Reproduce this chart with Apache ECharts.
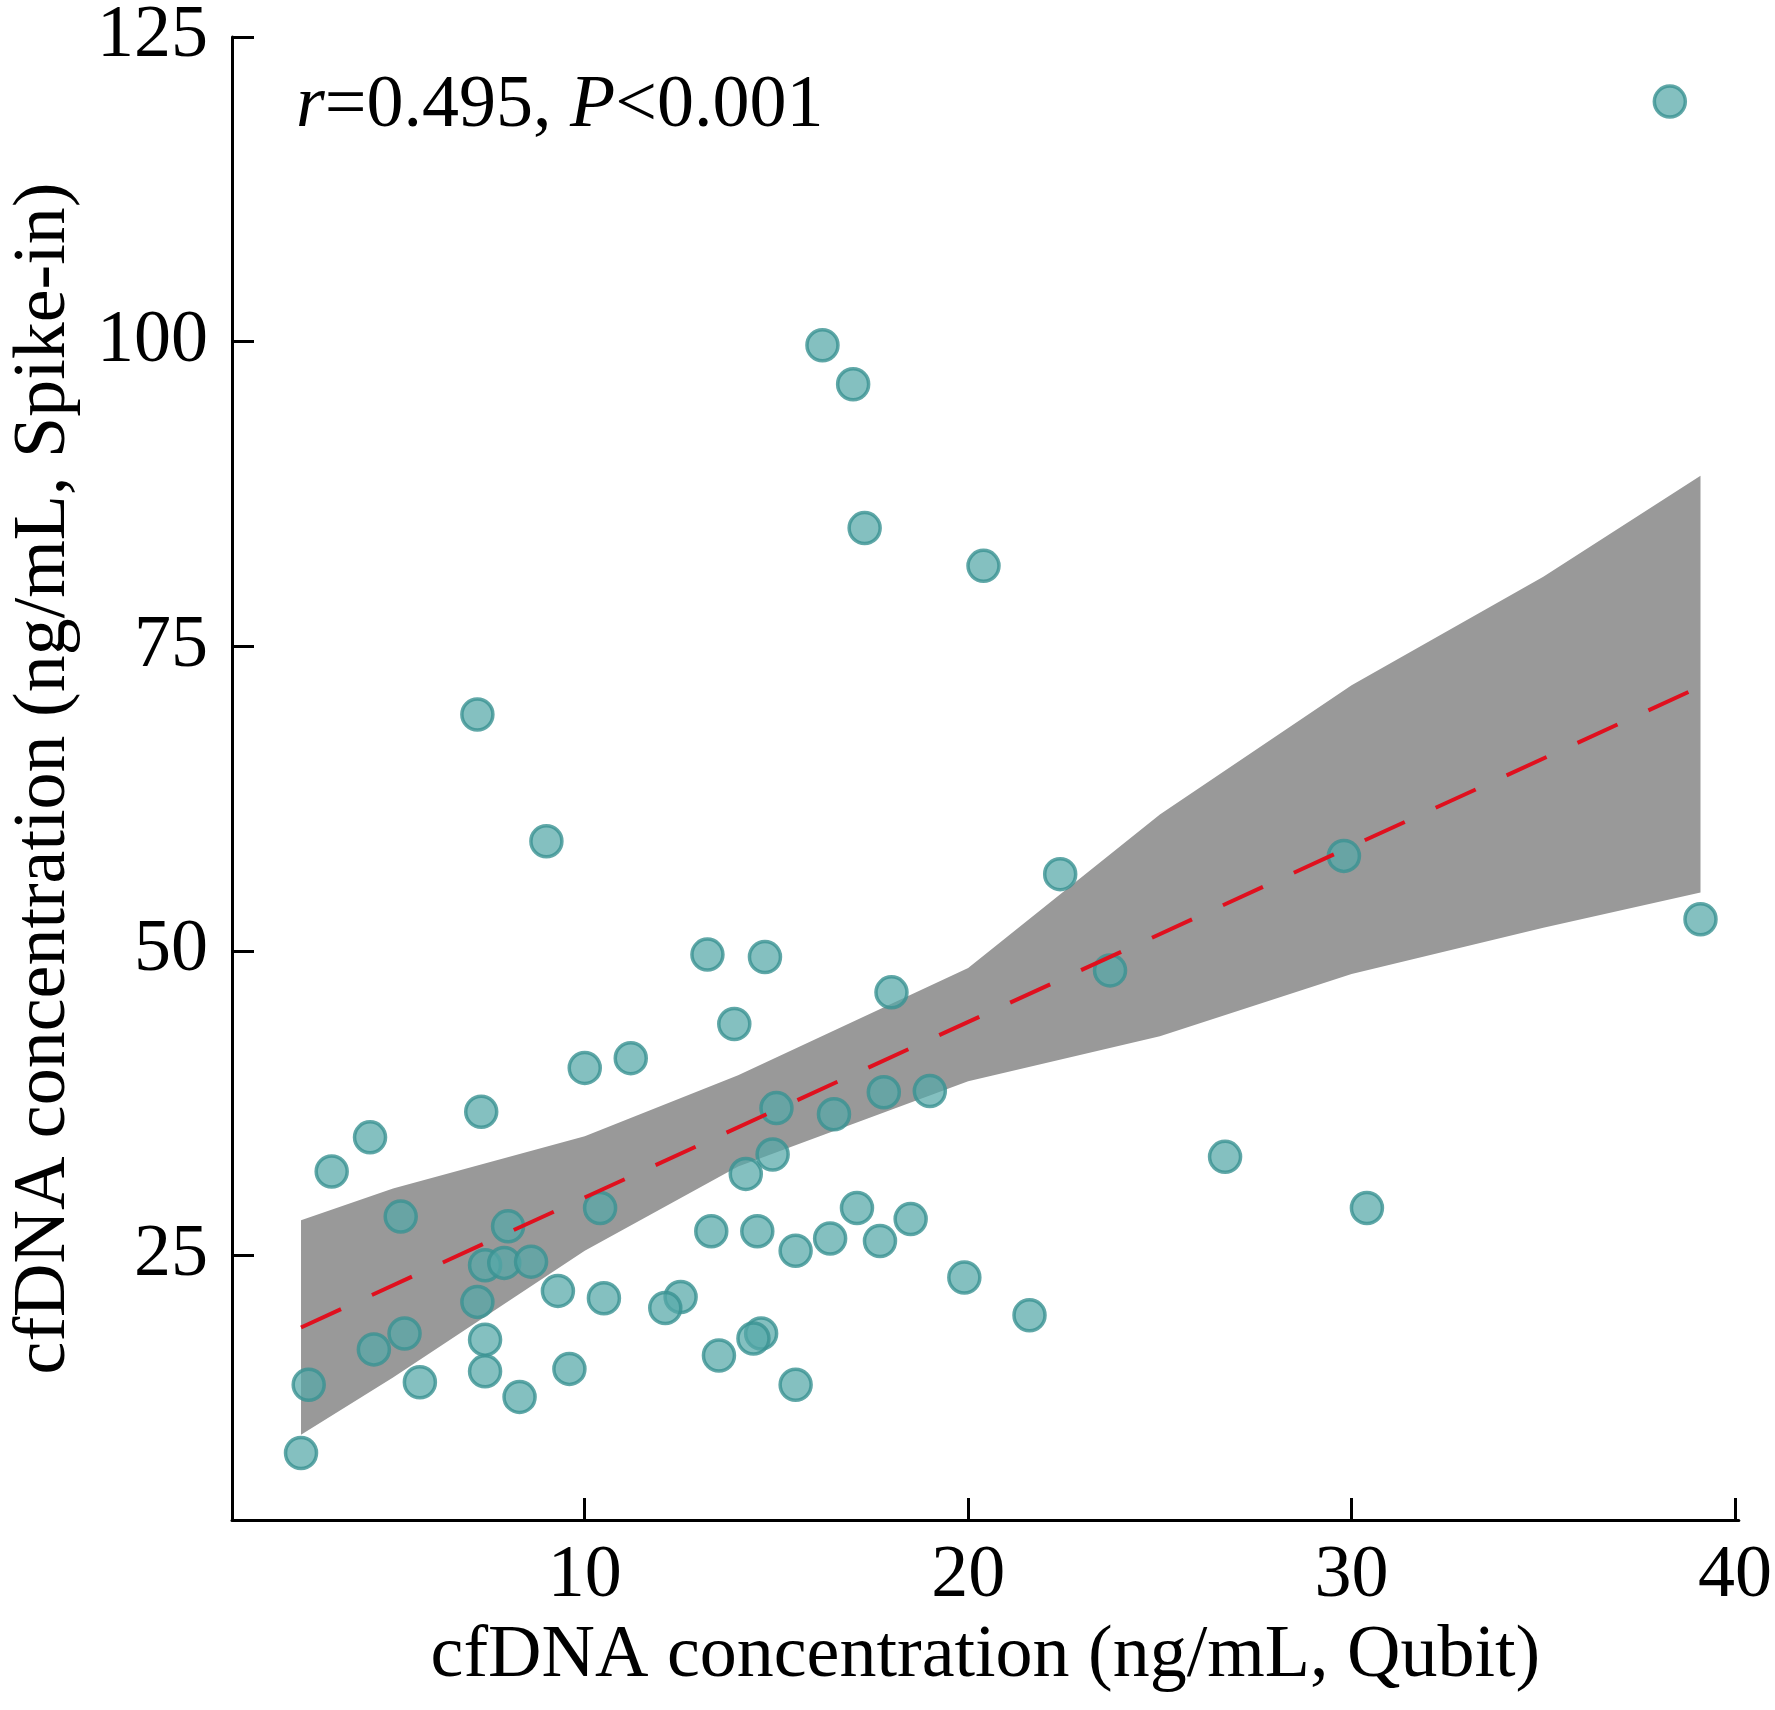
<!DOCTYPE html>
<html>
<head>
<meta charset="utf-8">
<script src="https://cdn.jsdelivr.net/npm/echarts@6/dist/echarts.min.js"></script>
<style>html,body{margin:0;padding:0;background:#fff}#chart{width:1775px;height:1710px}</style>
</head>
<body>
<div id="chart"></div>
<script>
const qubit = [38.3,16.2,17.0,17.3,20.4,7.2,9.0,22.4,29.8,39.1,13.2,14.7,23.7,18.0,13.9,11.2,10.0,7.3,15.0,16.5,17.8,19.0,4.4,3.4,14.9,14.2,26.7,30.4,5.2,10.4,8.0,17.1,18.5,13.3,14.5,16.4,17.7,15.5,7.4,7.9,8.6,19.9,9.3,7.2,10.5,12.5,12.1,21.6,5.3,4.5,7.4,14.6,14.4,13.5,9.6,7.4,5.7,15.5,2.8,8.3,2.6];
const spikeIn = [119.7,99.7,96.5,84.7,81.6,69.4,59.0,56.3,57.8,52.6,49.7,49.5,48.4,46.6,44.0,41.2,40.4,36.8,37.1,36.6,38.4,38.5,34.7,31.9,33.3,31.7,33.1,28.9,28.2,28.9,27.4,28.9,28.0,27.0,27.0,26.4,26.2,25.4,24.2,24.4,24.5,23.2,22.1,21.2,21.5,21.6,20.7,20.1,18.6,17.3,18.1,18.6,18.2,16.8,15.7,15.5,14.6,14.4,14.4,13.4,8.8];
const fitX = [2.6, 39.1];
const fitY = [19.1, 71.7];
const bandX = [2.6, 5, 10, 14, 20, 25, 30, 35, 39.1];
const bandLower = [10.3, 15.0, 25.4, 32.3, 39.3, 43.0, 48.1, 51.9, 54.8];
const bandUpper = [27.9, 30.5, 34.8, 39.8, 48.6, 61.2, 71.8, 80.7, 89.0];

const font = '"Liberation Serif", "Times New Roman", serif';
const fs = 74;
const chart = echarts.init(document.getElementById('chart'));
chart.setOption({
  animation: false,
  grid: { left: 229, right: 34, top: 37, bottom: 190 },
  xAxis: {
    type: 'value', min: 0.8, max: 40.1,
    name: 'cfDNA concentration (ng/mL, Qubit)', nameLocation: 'middle', nameGap: 100,
    nameTextStyle: { fontFamily: font, fontSize: fs, color: '#000' },
    axisLine: { lineStyle: { color: '#000', width: 3 } },
    axisTick: { inside: true, length: 22, lineStyle: { color: '#000', width: 3 }, customValues: [10, 20, 30, 40] },
    axisLabel: { fontFamily: font, fontSize: fs, color: '#000', margin: 20, customValues: [10, 20, 30, 40] },
    splitLine: { show: false }
  },
  yAxis: {
    type: 'value', min: 3.3, max: 125,
    name: 'cfDNA concentration (ng/mL, Spike-in)', nameLocation: 'middle', nameGap: 150,
    nameTextStyle: { fontFamily: font, fontSize: fs, color: '#000' },
    axisLine: { show: true, lineStyle: { color: '#000', width: 3 } },
    axisTick: { show: true, inside: true, length: 22, lineStyle: { color: '#000', width: 3 }, customValues: [25, 50, 75, 100, 125] },
    axisLabel: { fontFamily: font, fontSize: fs, color: '#000', margin: 24, customValues: [25, 50, 75, 100, 125] },
    splitLine: { show: false }
  },
  series: [
    {
      type: 'custom', silent: true, z: 1,
      data: [0],
      renderItem: (params, api) => {
        const pts = bandX.map((x, i) => api.coord([x, bandUpper[i]]))
          .concat(bandX.map((x, i) => api.coord([x, bandLower[i]])).reverse());
        return { type: 'polygon', shape: { points: pts }, style: { fill: '#999999' } };
      }
    },
    {
      type: 'scatter', symbolSize: 31, z: 3,
      itemStyle: { color: 'rgba(85,168,168,0.9)', borderColor: '#3a9292', borderWidth: 3.5 },
      data: qubit.map((x, i) => [x, spikeIn[i]])
    },
    {
      type: 'line', symbol: 'none', z: 5,
      lineStyle: { color: '#e0101e', width: 4, type: [44, 34] },
      data: fitX.map((x, i) => [x, fitY[i]])
    }
  ],
  graphic: [{
    type: 'text', left: 296, top: 70,
    style: {
      text: '{i|r}=0.495, {i|P}<0.001',
      font: fs + 'px ' + font, fill: '#000',
      rich: { i: { fontStyle: 'italic', fontFamily: font, fontSize: fs } }
    }
  }]
});
</script>
</body>
</html>
